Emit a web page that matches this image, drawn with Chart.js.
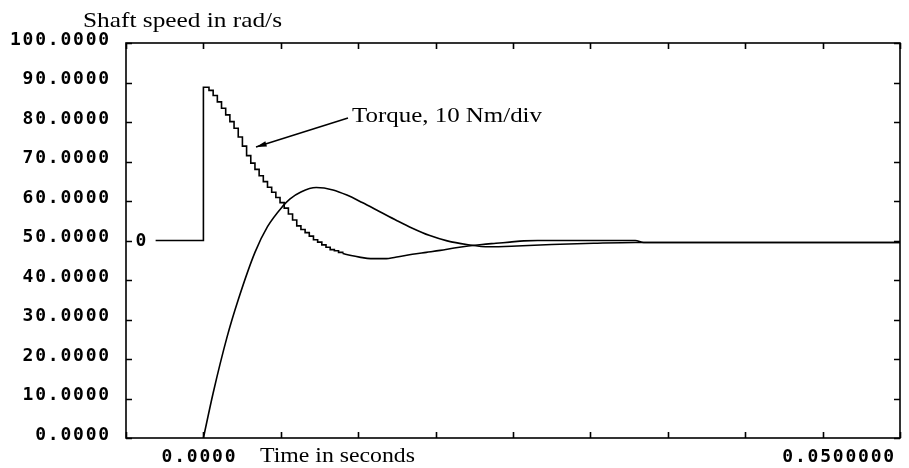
<!DOCTYPE html>
<html>
<head>
<meta charset="utf-8">
<script src="https://cdn.jsdelivr.net/npm/chart.js@4"></script>
<style>
  body { margin: 0; background: #fff; }
  #wrap { width: 909px; height: 468px; }
</style>
</head>
<body>
<div id="wrap"><canvas id="plot" width="909" height="468"></canvas></div>
<script>
// x ticks: one division = 0.05/9 s, axis starts one division before zero
const xTicks = [-0.005556, 0, 0.005556, 0.011111, 0.016667, 0.022222, 0.027778, 0.033333, 0.038889, 0.044444, 0.05];
const xTickLabels = { 0: '0.0000', 0.05: '0.0500000' };

// shaft speed, rad/s
const speedTime   = [0, 0.0007, 0.0017, 0.0025, 0.0037, 0.0046, 0.0057, 0.0062, 0.0070, 0.0081, 0.0093, 0.0103,
  0.0114, 0.0127, 0.0139, 0.0150, 0.0162, 0.0175, 0.0189, 0.0205, 0.0225, 0.0250, 0.0280, 0.0310, 0.0500];
const speedValues = [0, 11.4, 25.6, 35.0, 47.0, 53.5, 58.7, 60.5, 62.3, 63.4, 62.8, 61.5,
  59.6, 57.2, 55.0, 53.1, 51.3, 49.9, 49.0, 48.4, 48.6, 49.0, 49.3, 49.5, 49.5];

// torque, drawn on the speed axis (zero at 50, 10 Nm/div)
// sampled part (staircase) then the slow tail
const torqueZero = 50;
const torqueStepTime = [-0.00343, 0, 0.0004, 0.0007, 0.0010, 0.0013, 0.0016, 0.0019, 0.0022, 0.0025, 0.0028,
  0.0031, 0.0034, 0.0037, 0.0040, 0.0043, 0.0046, 0.0049, 0.0052, 0.0055, 0.0058,
  0.0061, 0.0064, 0.0067, 0.0070, 0.0073, 0.0076, 0.0079, 0.0082, 0.0085, 0.0088,
  0.0091, 0.0094, 0.0097, 0.0100];
const torqueStepValues = [50, 88.8, 88.0, 86.7, 85.1, 83.5, 81.8, 80.1, 78.4, 76.2, 73.9,
  71.5, 69.6, 68.0, 66.4, 64.9, 63.5, 62.2, 60.9, 59.6, 58.2,
  56.7, 55.2, 53.7, 52.8, 52.0, 51.1, 50.2, 49.6, 48.9, 48.3,
  47.7, 47.4, 47.0, 46.7];
const torqueTailTime = [0.0100, 0.0106, 0.0112, 0.0120, 0.0130, 0.0140, 0.0150, 0.0160, 0.0170, 0.0180,
  0.0190, 0.0200, 0.0210, 0.0220, 0.0230, 0.0240, 0.0310, 0.0316, 0.0500];
const torqueTailValues = [46.7, 46.2, 45.8, 45.4, 45.4, 45.9, 46.5, 47.0, 47.5, 48.1,
  48.6, 49.0, 49.3, 49.6, 49.9, 50.0, 50.0, 49.5, 49.5];

const monoFont = { family: 'DejaVu Sans Mono', size: 18, weight: 'bold' };
const serif = 'Liberation Serif';

function fitText(ctx, text, x, baseline, width, size) {
  ctx.save();
  ctx.font = size + 'px "' + serif + '"';
  const w = ctx.measureText(text).width;
  ctx.translate(x, baseline);
  ctx.scale(width / w, 1);
  ctx.textAlign = 'left';
  ctx.textBaseline = 'alphabetic';
  ctx.fillText(text, 0, 0);
  ctx.restore();
}

const frame = {
  id: 'frame',
  beforeDraw(chart) {
    const ctx = chart.ctx;
    ctx.save();
    ctx.fillStyle = '#fff';
    ctx.fillRect(0, 0, chart.width, chart.height);
    ctx.restore();
    ctx.letterSpacing = '1.8px';
  },
  afterDraw(chart) {
    const ctx = chart.ctx;
    const a = chart.chartArea;
    const xs = chart.scales.x, ys = chart.scales.y;
    ctx.letterSpacing = '0px';
    ctx.save();
    ctx.strokeStyle = '#000';
    ctx.fillStyle = '#000';
    ctx.lineWidth = 1.6;
    ctx.strokeRect(a.left, a.top, a.right - a.left, a.bottom - a.top);

    // inward ticks on all four sides
    ctx.beginPath();
    xs.ticks.forEach(t => {
      const px = Math.round(xs.getPixelForValue(t.value)) + 0.5;
      ctx.moveTo(px, a.bottom); ctx.lineTo(px, a.bottom - 6);
      ctx.moveTo(px, a.top); ctx.lineTo(px, a.top + 6);
    });
    ys.ticks.forEach(t => {
      const py = Math.round(ys.getPixelForValue(t.value)) + 0.5;
      ctx.moveTo(a.left, py); ctx.lineTo(a.left + 6, py);
      ctx.moveTo(a.right, py); ctx.lineTo(a.right - 6, py);
    });
    ctx.stroke();

    // torque zero marker
    ctx.font = 'bold 18px "DejaVu Sans Mono"';
    ctx.textAlign = 'center';
    ctx.textBaseline = 'middle';
    ctx.fillText('0', a.left + 15, ys.getPixelForValue(torqueZero) + 1);

    // texts
    fitText(ctx, 'Shaft speed in rad/s', 83, 27, 199, 21);
    fitText(ctx, 'Time in seconds', 260, 462, 155, 21);
    fitText(ctx, 'Torque, 10 Nm/div', 352, 122, 190, 21);

    // arrow to the torque curve
    const x0 = 348, y0 = 118, x1 = 256, y1 = 147;
    const ang = Math.atan2(y1 - y0, x1 - x0);
    ctx.lineWidth = 1.5;
    ctx.beginPath();
    ctx.moveTo(x0, y0);
    ctx.lineTo(x1, y1);
    ctx.stroke();
    ctx.beginPath();
    ctx.moveTo(x1, y1);
    ctx.lineTo(x1 - 11 * Math.cos(ang - 0.25), y1 - 11 * Math.sin(ang - 0.25));
    ctx.lineTo(x1 - 11 * Math.cos(ang + 0.25), y1 - 11 * Math.sin(ang + 0.25));
    ctx.closePath();
    ctx.fill();
    ctx.restore();
  }
};

const lineStyle = { borderColor: '#000', borderWidth: 1.6, pointRadius: 0, fill: false };

new Chart(document.getElementById('plot'), {
  type: 'line',
  data: {
    datasets: [
      Object.assign({
        label: 'Speed',
        data: speedTime.map((t, i) => ({ x: t, y: speedValues[i] })),
        cubicInterpolationMode: 'monotone'
      }, lineStyle),
      Object.assign({
        label: 'Torque',
        data: torqueStepTime.map((t, i) => ({ x: t, y: torqueStepValues[i] })),
        stepped: 'before'
      }, lineStyle),
      Object.assign({
        label: 'Torque tail',
        data: torqueTailTime.map((t, i) => ({ x: t, y: torqueTailValues[i] })),
        cubicInterpolationMode: 'monotone'
      }, lineStyle)
    ]
  },
  options: {
    responsive: false,
    animation: false,
    devicePixelRatio: 1,
    layout: { padding: { top: 43, right: 6, left: 0, bottom: 0 } },
    plugins: { legend: { display: false }, tooltip: { enabled: false }, title: { display: false } },
    scales: {
      x: {
        type: 'linear',
        min: xTicks[0],
        max: xTicks[xTicks.length - 1],
        afterBuildTicks: s => { s.ticks = xTicks.map(v => ({ value: v })); },
        afterFit: s => { s.height = 30; },
        grid: { display: false, drawTicks: false },
        border: { display: false },
        ticks: {
          autoSkip: false,
          maxRotation: 0,
          align: 'inner',
          padding: 9,
          labelOffset: -4,
          color: '#000',
          font: monoFont,
          callback: v => xTickLabels[v] || ''
        }
      },
      y: {
        min: 0,
        max: 100,
        afterFit: s => { s.width = 126; },
        grid: { display: false, drawTicks: false },
        border: { display: false },
        ticks: {
          stepSize: 10,
          padding: 15,
          labelOffset: -3,
          color: '#000',
          font: monoFont,
          callback: v => v.toFixed(4)
        }
      }
    }
  },
  plugins: [frame]
});
</script>
</body>
</html>
